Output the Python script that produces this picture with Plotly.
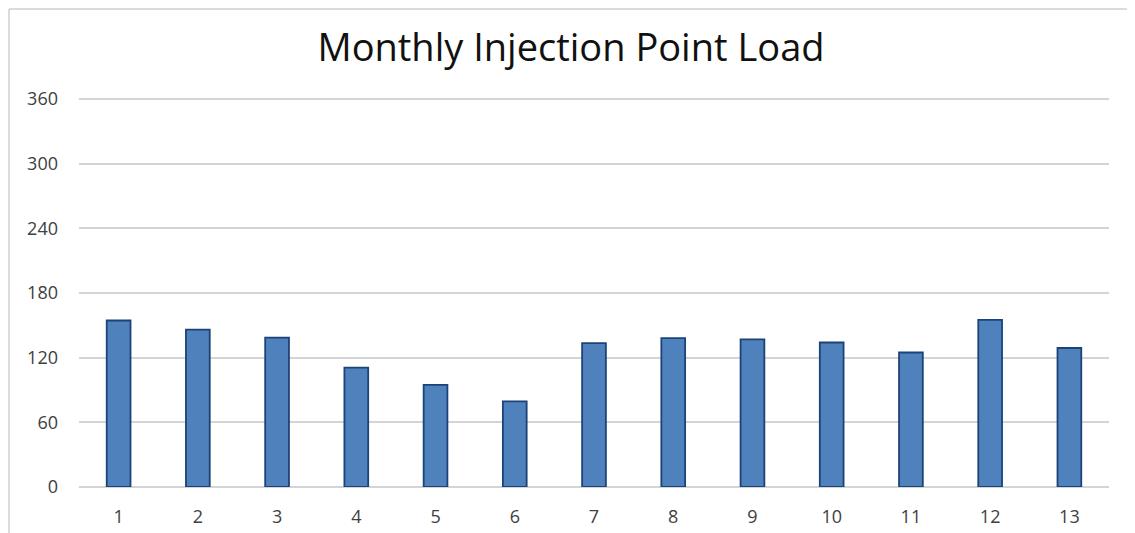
import plotly.graph_objects as go

categories = [str(i) for i in range(1, 14)]
loads = [154.5, 146, 138.7, 110.7, 94.8, 79.5, 133.5, 138.1, 137, 134.1, 124.8, 155.1, 129]
y_ticks = [0, 60, 120, 180, 240, 300, 360]

W, H = 1127, 525
L, R, T, B = 71, 26, 90, 46
PW, PH = W - L - R, H - T - B

fig = go.Figure(go.Bar(
    x=categories, y=loads,
    marker=dict(color="#4f81bd", line=dict(color="#1c4378", width=1.8)),
))

fig.update_layout(
    width=W, height=H,
    margin=dict(l=L, r=R, t=T, b=B, autoexpand=False),
    paper_bgcolor="white", plot_bgcolor="white",
    bargap=0.70,
    showlegend=False,
    title=dict(text="Monthly Injection Point Load", x=563/W, xanchor="center",
               y=1 - 40/H, yanchor="middle", yref="container",
               font=dict(family="Open Sans", size=38, color="#111111")),
    font=dict(family="Open Sans", size=18, color="#404040"),
    shapes=[
        dict(type="line", xref="paper", yref="paper", x0=-(L - 1)/PW, x1=1 + R/PW,
             y0=1 + (T - 1)/PH, y1=1 + (T - 1)/PH,
             line=dict(color="#cfcfcf", width=1.5)),
        dict(type="line", xref="paper", yref="paper", x0=-(L - 1)/PW, x1=-(L - 1)/PW,
             y0=1 + (T - 1)/PH, y1=-B/PH,
             line=dict(color="#cfcfcf", width=1.5)),
    ],
)
fig.update_xaxes(type="category", showgrid=False, showline=False, ticks="", automargin=False,
                 ticklabelstandoff=17, tickfont=dict(size=18, color="#404040"))
fig.update_yaxes(range=[0, 361], tickvals=y_ticks, showgrid=True, gridcolor="#d4d4d4", gridwidth=1.5,
                 zeroline=True, zerolinecolor="#d4d4d4", zerolinewidth=1.5, showline=False, ticks="",
                 automargin=False, ticklabelstandoff=20, tickfont=dict(size=18, color="#404040"))

fig.write_html("out.html")
